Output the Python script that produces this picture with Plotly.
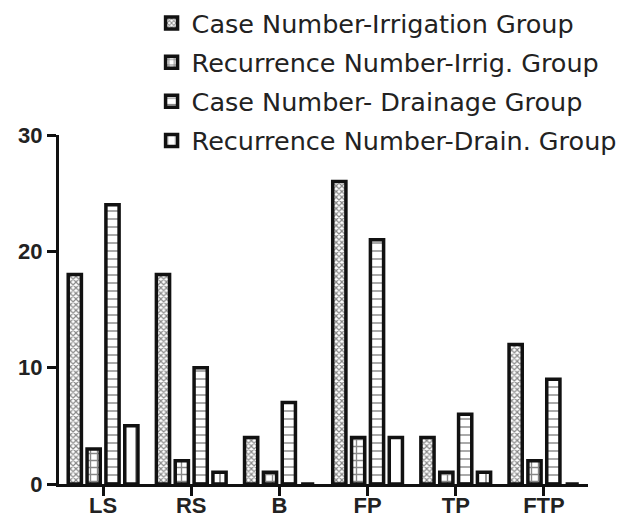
import plotly.graph_objects as go

categories = ["LS", "RS", "B", "FP", "TP", "FTP"]
case_irrigation = [18, 18, 4, 26, 4, 12]
recur_irrigation = [3, 2, 1, 4, 1, 2]
case_drainage = [24, 10, 7, 21, 6, 9]
recur_drainage = [5, 1, 0, 4, 1, 0]
series_names = [
    "Case Number-Irrigation Group",
    "Recurrence Number-Irrig. Group",
    "Case Number- Drainage Group",
    "Recurrence Number-Drain. Group",
]
y_ticks = [0, 10, 20, 30]

patterns = [
    dict(shape="x", fgcolor="#111", bgcolor="white", size=4, solidity=0.5),
    dict(shape="+", fgcolor="#111", bgcolor="white", size=7, solidity=0.35),
    dict(shape="-", fgcolor="#111", bgcolor="white", size=8, solidity=0.18),
    dict(shape="|", fgcolor="#111", bgcolor="white", size=14, solidity=0.12),
]

FONT = "DejaVu Sans, Liberation Sans, Arial, sans-serif"
TICKFONT = "Liberation Sans, Arial, sans-serif"

fig = go.Figure()
for i, (name, vals) in enumerate(zip(series_names,
                                     [case_irrigation, recur_irrigation, case_drainage, recur_drainage])):
    fig.add_trace(go.Bar(
        x=categories, y=vals, name=name, legendgroup=f"g{i}",
        marker=dict(color="white", line=dict(color="#111", width=3.5), pattern=patterns[i]),
    ))

fig.update_layout(
    width=625, height=511,
    margin=dict(l=51, r=45, t=127, b=35, autoexpand=False),
    paper_bgcolor="white", plot_bgcolor="white",
    barmode="group", bargap=0.145, bargroupgap=0.3,
    font=dict(family=FONT, color="#222"),
    showlegend=True,
    legend=dict(
        x=0.175, xanchor="left", y=1.387, yanchor="top",
        font=dict(size=25.5, color="#222", family=FONT),
        tracegroupgap=3, bgcolor="rgba(0,0,0,0)",
        traceorder="grouped",
    ),
    xaxis=dict(
        showline=True, linecolor="#111", linewidth=3,
        ticks="outside", ticklen=9, tickwidth=3, tickcolor="#111",
        tickfont=dict(size=22, family=TICKFONT, color="#222", weight="bold"),
        ticklabelstandoff=-9,
        showgrid=False, zeroline=False,
    ),
    yaxis=dict(
        range=[0, 30], tickvals=y_ticks,
        showline=True, linecolor="#111", linewidth=3,
        ticks="outside", ticklen=9, tickwidth=3, tickcolor="#111",
        tickfont=dict(size=22, family=TICKFONT, color="#222", weight="bold"),
        showgrid=False, zeroline=False,
    ),
)

fig.write_html("out.html")
